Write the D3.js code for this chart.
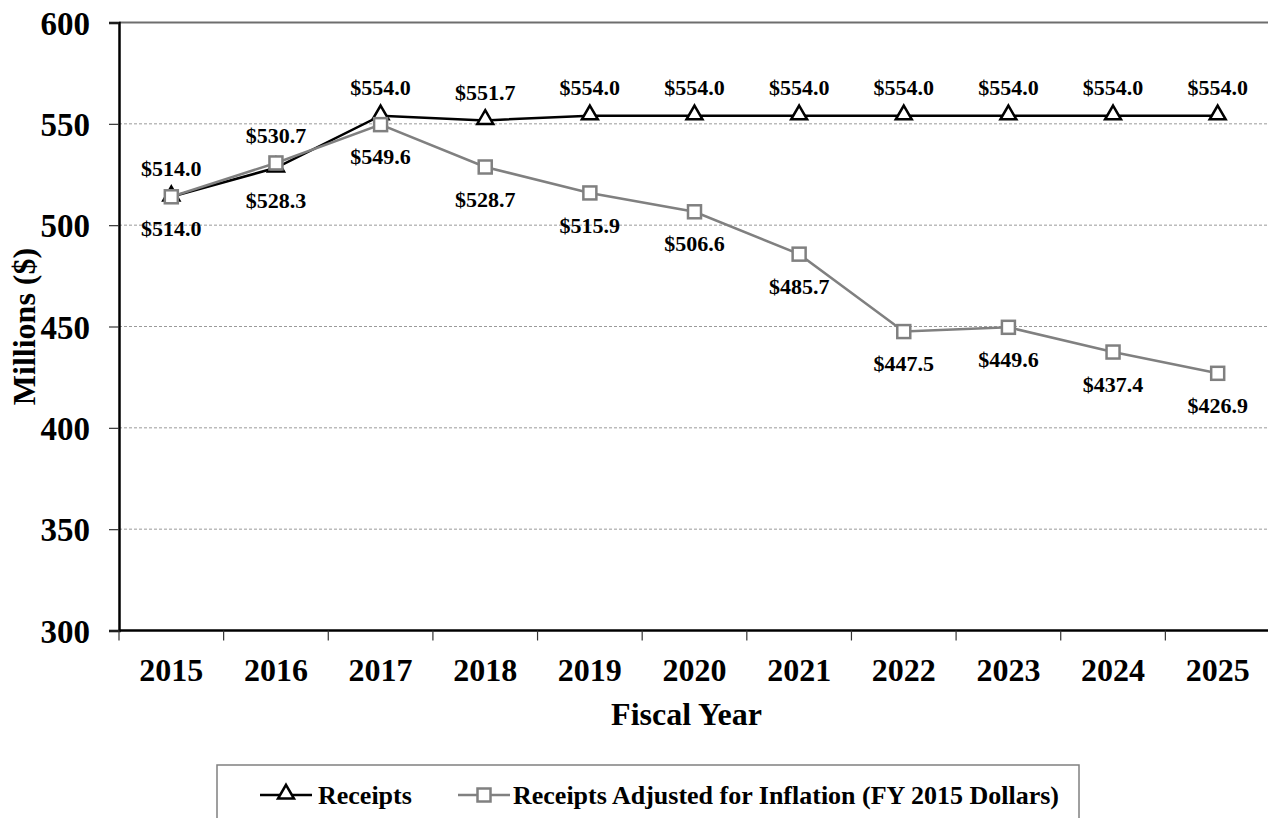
<!DOCTYPE html>
<html>
<head>
<meta charset="utf-8">
<script src="https://cdn.jsdelivr.net/npm/d3@7"></script>
<style>
  body { margin: 0; background: #fff; }
  text { font-family: "Liberation Serif", "Times New Roman", serif; font-weight: bold; fill: #000; }
</style>
</head>
<body>
<div id="chart"></div>
<script>
// data
const years = ["2015", "2016", "2017", "2018", "2019", "2020", "2021", "2022", "2023", "2024", "2025"];
const receipts = [514.0, 528.3, 554.0, 551.7, 554.0, 554.0, 554.0, 554.0, 554.0, 554.0, 554.0];
const adjusted = [514.0, 530.7, 549.6, 528.7, 515.9, 506.6, 485.7, 447.5, 449.6, 437.4, 426.9];
const receiptsLabelPos = ["below", "below", "above", "above", "above", "above", "above", "above", "above", "above", "above"];
const adjustedLabelPos = ["above", "above", "below", "below", "below", "below", "below", "below", "below", "below", "below"];
const yTicks = [300, 350, 400, 450, 500, 550, 600];

var W = 1268, H = 818;
var plotLeft = 119, plotRight = 1270, plotTop = 22.5, plotBottom = 630.5;

var svg = d3.select("#chart").append("svg")
  .attr("width", W)
  .attr("height", H);

var x = d3.scaleBand().domain(years).range([plotLeft, plotRight]).padding(0);
var y = d3.scaleLinear().domain([300, 600]).range([plotBottom, plotTop]);
var cx = d => x(d) + x.bandwidth() / 2;

// gridlines
svg.append("g")
  .selectAll("line")
  .data(yTicks.filter(t => t > 300 && t < 600))
  .enter().append("line")
  .attr("x1", plotLeft).attr("x2", W)
  .attr("y1", d => y(d)).attr("y2", d => y(d))
  .attr("stroke", "#9a9a9a")
  .attr("stroke-width", 1)
  .attr("stroke-dasharray", "3,2");

// top border
svg.append("line")
  .attr("x1", plotLeft).attr("x2", W)
  .attr("y1", plotTop).attr("y2", plotTop)
  .attr("stroke", "#6e6e6e").attr("stroke-width", 2);

// y axis
var yAxis = d3.axisLeft(y).tickValues(yTicks).tickSize(10).tickPadding(19);
var gy = svg.append("g")
  .attr("transform", `translate(${plotLeft},0)`)
  .call(yAxis);
gy.select(".domain").attr("stroke", "#000").attr("stroke-width", 2.5);
gy.selectAll(".tick line").attr("stroke", "#333").attr("stroke-width", 1.2);
gy.selectAll(".tick text").style("font-size", "33px").attr("dy", "0.35em");

// x axis: labels at band centers, ticks at band edges
var xAxis = d3.axisBottom(x).tickSize(0).tickPadding(28);
var gx = svg.append("g")
  .attr("transform", `translate(0,${plotBottom})`)
  .call(xAxis);
gx.select(".domain").remove();
gx.selectAll(".tick text").style("font-size", "32px");

svg.append("line")
  .attr("x1", plotLeft).attr("x2", W)
  .attr("y1", plotBottom).attr("y2", plotBottom)
  .attr("stroke", "#000").attr("stroke-width", 2.5);

svg.append("g")
  .selectAll("line")
  .data(years)
  .enter().append("line")
  .attr("x1", d => x(d)).attr("x2", d => x(d))
  .attr("y1", plotBottom).attr("y2", plotBottom + 10)
  .attr("stroke", "#333").attr("stroke-width", 1.2);

// axis titles
svg.append("text")
  .attr("transform", `translate(35,${(plotTop + plotBottom) / 2}) rotate(-90)`)
  .attr("text-anchor", "middle")
  .style("font-size", "32px")
  .text("Millions ($)");

svg.append("text")
  .attr("x", (plotLeft + plotRight) / 2 - 8)
  .attr("y", 725)
  .attr("text-anchor", "middle")
  .style("font-size", "32px")
  .text("Fiscal Year");

// lines
var line = d3.line()
  .x((d, i) => cx(years[i]))
  .y(d => y(d));

svg.append("path")
  .attr("d", line(receipts))
  .attr("fill", "none")
  .attr("stroke", "#000")
  .attr("stroke-width", 2.5);

svg.append("path")
  .attr("d", line(adjusted))
  .attr("fill", "none")
  .attr("stroke", "#808080")
  .attr("stroke-width", 2.5);

var tri = d3.symbol().type(d3.symbolTriangle).size(110);

svg.append("g")
  .selectAll("path")
  .data(receipts)
  .enter().append("path")
  .attr("d", tri)
  .attr("transform", (d, i) => `translate(${cx(years[i])},${y(d) - 1})`)
  .attr("fill", "#fff")
  .attr("stroke", "#000")
  .attr("stroke-width", 2.5);

svg.append("g")
  .selectAll("rect")
  .data(adjusted)
  .enter().append("rect")
  .attr("x", (d, i) => cx(years[i]) - 6.5)
  .attr("y", d => y(d) - 6.5)
  .attr("width", 13).attr("height", 13)
  .attr("fill", "#fff")
  .attr("stroke", "#808080")
  .attr("stroke-width", 2.5);

// data labels
function labels(vals, pos) {
  svg.append("g")
    .selectAll("text")
    .data(vals)
    .enter().append("text")
    .attr("x", (d, i) => cx(years[i]))
    .attr("y", (d, i) => y(d) + (pos[i] === "above" ? -28 : 32))
    .attr("dy", "0.35em")
    .attr("text-anchor", "middle")
    .style("font-size", "22px")
    .text(d => "$" + d.toFixed(1));
}
labels(receipts, receiptsLabelPos);
labels(adjusted, adjustedLabelPos);

// legend
var lg = svg.append("g");
lg.append("rect")
  .attr("x", 217).attr("y", 765)
  .attr("width", 862).attr("height", 80)
  .attr("fill", "#fff")
  .attr("stroke", "#808080")
  .attr("stroke-width", 1.5);

var ly = 795;
lg.append("line")
  .attr("x1", 260).attr("x2", 312).attr("y1", ly).attr("y2", ly)
  .attr("stroke", "#000").attr("stroke-width", 2.5);
lg.append("path")
  .attr("d", tri)
  .attr("transform", `translate(286,${ly - 1})`)
  .attr("fill", "#fff").attr("stroke", "#000").attr("stroke-width", 2.5);
lg.append("text")
  .attr("x", 318).attr("y", ly).attr("dy", "0.33em")
  .style("font-size", "26px")
  .text("Receipts");

lg.append("line")
  .attr("x1", 458).attr("x2", 510).attr("y1", ly).attr("y2", ly)
  .attr("stroke", "#808080").attr("stroke-width", 2.5);
lg.append("rect")
  .attr("x", 484 - 6.5).attr("y", ly - 6.5)
  .attr("width", 13).attr("height", 13)
  .attr("fill", "#fff").attr("stroke", "#808080").attr("stroke-width", 2.5);
lg.append("text")
  .attr("x", 513).attr("y", ly).attr("dy", "0.33em")
  .style("font-size", "26px")
  .text("Receipts Adjusted for Inflation (FY 2015 Dollars)");
</script>
</body>
</html>
